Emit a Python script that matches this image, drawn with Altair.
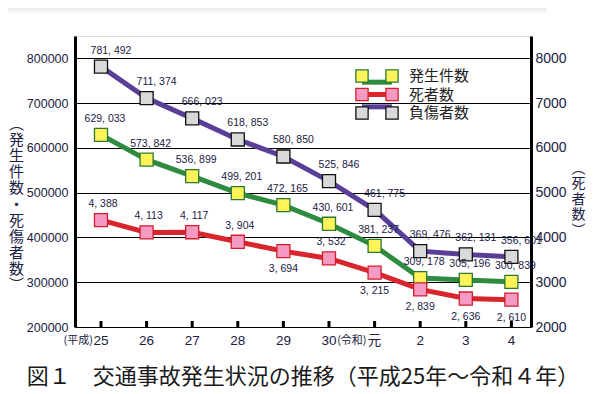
import altair as alt
import pandas as pd

years = ["25", "26", "27", "28", "29", "30", "元", "2", "3", "4"]
era_idx = [0, 6]
era_names = ["(平成)", "(令和)"]
accidents = [629033, 573842, 536899, 499201, 472165, 430601, 381237, 309178, 305196, 300839]
injured = [781492, 711374, 666023, 618853, 580850, 525846, 461775, 369476, 362131, 356601]
deaths = [4388, 4113, 4117, 3904, 3694, 3532, 3215, 2839, 2636, 2610]
series_names = ["発生件数", "死者数", "負傷者数"]
line_colors = ["#2f8b3f", "#d8262c", "#5a3f98"]
fill_colors = ["#fff35a", "#f59bc3", "#d9d9d9"]
edge_colors = ["#2a7a2e", "#d21f2b", "#111111"]

idx = list(range(len(years)))
acc_df = pd.DataFrame({"i": idx, "value": accidents, "series": series_names[0]})
inj_df = pd.DataFrame({"i": idx, "value": injured, "series": series_names[2]})
death_df = pd.DataFrame({"i": idx, "value": deaths, "series": series_names[1]})
legend_df = pd.DataFrame({"series": series_names})
tick_df = pd.DataFrame({"i": idx, "year": years})
era_df = pd.DataFrame({"i": era_idx, "era": era_names})

W, H = 456, 291
NUM_FONT = "Liberation Sans, Noto Sans CJK JP"
JP_FONT = "Noto Sans CJK JP"
TXT = "#1b2142"

xscale = alt.Scale(domain=[-0.57, 9.43], nice=False, zero=False)
lscale = alt.Scale(domain=[200000, 850000], nice=False, zero=False)
rscale = alt.Scale(domain=[2000, 8500], nice=False, zero=False)

x_axis = alt.Axis(values=idx, labels=False, ticks=False, grid=False,
                  domainColor="black", domainWidth=3, title=None)
xe = alt.X("i:Q", scale=xscale, axis=x_axis)
xn = alt.X("i:Q", scale=xscale, axis=None)

left_axis = alt.Axis(
    values=[200000, 300000, 400000, 500000, 600000, 700000, 800000], format="d",
    ticks=False, grid=True, gridColor="black", gridWidth=1, gridOpacity=1,
    domainColor="black", domainWidth=3, labelFont=NUM_FONT, labelFontSize=12.5,
    labelColor=TXT, labelPadding=7,
    title=["︵", "発", "生", "件", "数", "・", "死", "傷", "者", "数", "︶"],
    titleAngle=0, titleFont=JP_FONT, titleFontSize=15, titleFontWeight="normal",
    titleColor=TXT, titleLineHeight=16.2, titleX=-59, titleY=87,
    titleBaseline="middle", titleAlign="center",
)
right_axis = alt.Axis(
    orient="right", values=[2000, 3000, 4000, 5000, 6000, 7000, 8000], format="d",
    ticks=False, grid=False, domainColor="black", domainWidth=3,
    labelFont=NUM_FONT, labelFontSize=14, labelColor=TXT, labelPadding=4,
    title=["︵", "死", "者", "数", "︶"], titleAngle=0, titleFont=JP_FONT,
    titleFontSize=14, titleFontWeight="normal", titleColor=TXT, titleLineHeight=15.5,
    titleX=47, titleY=132, titleBaseline="middle", titleAlign="center",
)

def fmt(base):
    return base.transform_calculate(lab="replace(format(datum.value, ','), ',', ', ')")

acc_line = alt.Chart(acc_df).mark_line(strokeWidth=5, color=line_colors[0]).encode(
    x=xe, y=alt.Y("value:Q", scale=lscale, axis=left_axis))
inj_line = alt.Chart(inj_df).mark_line(strokeWidth=5, color=line_colors[2]).encode(
    x=xn, y=alt.Y("value:Q", scale=lscale, axis=None))
death_line = alt.Chart(death_df).mark_line(strokeWidth=5, color=line_colors[1]).encode(
    x=xn, y=alt.Y("value:Q", scale=rscale, axis=right_axis))

def pts(df, scale, k):
    return alt.Chart(df).mark_point(shape="square", size=170, filled=True, opacity=1,
                                    fill=fill_colors[k], stroke=edge_colors[k], strokeWidth=1.3).encode(
        x=xn, y=alt.Y("value:Q", scale=scale, axis=None))

def labs(df, scale, dx, dy, base=None):
    c = fmt(alt.Chart(df))
    if base is not None:
        c = c.transform_filter(base)
    return c.mark_text(font=NUM_FONT, fontSize=10.5, color=TXT, dx=dx, dy=dy).encode(
        x=xn, y=alt.Y("value:Q", scale=scale, axis=None), text="lab:N")

acc_pts = pts(acc_df, lscale, 0)
inj_pts = pts(inj_df, lscale, 2)
death_pts = pts(death_df, rscale, 1)

acc_lab = labs(acc_df, lscale, 4, -16)
inj_lab = labs(inj_df, lscale, 10, -16)
death_up = labs(death_df, rscale, 2, -16, "indexof([4,6,7,8,9], datum.i) < 0")
death_dn = labs(death_df, rscale, 0, 18, "indexof([4,6,7,8,9], datum.i) >= 0")

ticks = alt.Chart(tick_df).mark_rule(color="black", strokeWidth=3).encode(
    x=xn, y=alt.value(H), y2=alt.value(H - 6))
year_txt = alt.Chart(tick_df).mark_text(font=NUM_FONT, fontSize=13.5, color=TXT, baseline="middle").encode(
    x=xn, y=alt.value(H + 14), text="year:N")
era_txt = alt.Chart(era_df).mark_text(font=JP_FONT, fontSize=11, color=TXT, baseline="middle",
                                      align="right", dx=-8).encode(
    x=xn, y=alt.value(H + 14), text="era:N")

# custom legend
ly = alt.Y("series:N", scale=alt.Scale(domain=series_names, range=[40, 77], padding=0), axis=None)
lcolor = alt.Color("series:N", scale=alt.Scale(domain=series_names, range=line_colors), legend=None)
lfill = alt.Fill("series:N", scale=alt.Scale(domain=series_names, range=fill_colors), legend=None)
lstroke = alt.Stroke("series:N", scale=alt.Scale(domain=series_names, range=edge_colors), legend=None)
leg_rule = alt.Chart(legend_df).mark_rule(strokeWidth=5).encode(
    x=alt.value(287), x2=alt.value(317), y=ly, color=lcolor)
leg_p1 = alt.Chart(legend_df).mark_point(shape="square", size=150, filled=True, opacity=1, strokeWidth=1.3).encode(
    x=alt.value(287), y=ly, fill=lfill, stroke=lstroke)
leg_p2 = alt.Chart(legend_df).mark_point(shape="square", size=150, filled=True, opacity=1, strokeWidth=1.3).encode(
    x=alt.value(317), y=ly, fill=lfill, stroke=lstroke)
leg_txt = alt.Chart(legend_df).mark_text(align="left", baseline="middle", font=JP_FONT, fontSize=15, color="#222").encode(
    x=alt.value(334), y=ly, text="series:N")

band = alt.Chart(pd.DataFrame({"a": [0]})).mark_rect(
    fill=alt.Gradient(gradient="linear", x1=0, x2=0, y1=0, y2=1,
                      stops=[alt.GradientStop(color="#d0d0d0", offset=0),
                             alt.GradientStop(color="#ffffff", offset=1)])).encode(
    x=alt.value(-75), x2=alt.value(472), y=alt.value(-36), y2=alt.value(-22))

chart = alt.layer(
    acc_line, inj_line, death_line, ticks, year_txt, era_txt,
    acc_pts, inj_pts, death_pts,
    acc_lab, inj_lab, death_up, death_dn,
    leg_rule, leg_p1, leg_p2, leg_txt, band,
).resolve_scale(y="independent", color="independent", fill="independent", stroke="independent").properties(
    width=W, height=H,
    autosize=alt.AutoSizeParams(type="none"),
    padding={"left": 67, "top": 28, "right": 72, "bottom": 70},
    title=alt.TitleParams("図１　交通事故発生状況の推移（平成25年～令和４年）", orient="bottom",
                          anchor="middle", font=JP_FONT, fontSize=22, fontWeight="normal",
                          color="#1a1a1a", offset=19),
).configure_view(stroke=None).configure(background="white")

chart.save("out.html", embed_options={"renderer": "svg", "actions": False})
